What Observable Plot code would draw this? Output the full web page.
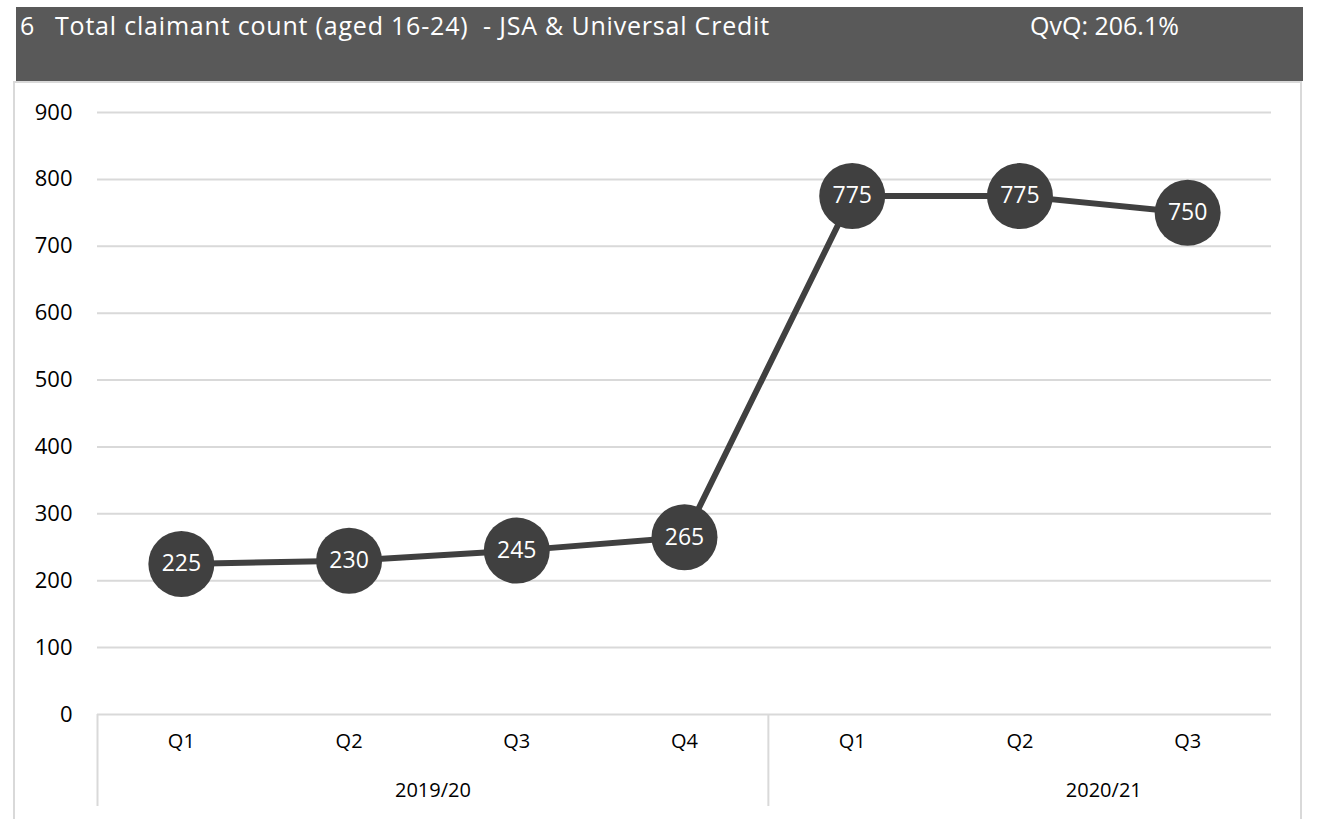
<!DOCTYPE html>
<html>
<head>
<meta charset="utf-8">
<script src="https://cdn.jsdelivr.net/npm/d3@7"></script>
<script src="https://cdn.jsdelivr.net/npm/@observablehq/plot@0.6"></script>
<style>
  html, body { margin: 0; padding: 0; background: #ffffff; width: 1319px; height: 819px; overflow: hidden; font-family: "Open Sans", sans-serif; }
  #header { position: absolute; left: 16px; top: 7px; width: 1287px; height: 74px; background: #595959; color: #ffffff; font-size: 25px; }
  #header span { position: absolute; top: 1px; white-space: pre; }
  #box { position: absolute; left: 13px; top: 81px; width: 1285px; height: 760px; border: 2px solid #d9d9d9; border-bottom: none; }
  #chart { position: absolute; left: 0; top: 82px; }
</style>
</head>
<body>
<div id="box"></div>
<div id="header">
  <span id="num" style="left:4px">6</span>
  <span id="title" style="left:39px; letter-spacing:0.8px">Total claimant count (aged 16-24)  - JSA &amp; Universal Credit</span>
  <span id="qvq" style="left:1014px">QvQ: 206.1%</span>
</div>
<div id="chart"></div>
<script>
const quarters = ["Q1", "Q2", "Q3", "Q4", "Q1", "Q2", "Q3"];
const years = ["2019/20", "2019/20", "2019/20", "2019/20", "2020/21", "2020/21", "2020/21"];
const values = [225, 230, 245, 265, 775, 775, 750];
const yTicks = [0, 100, 200, 300, 400, 500, 600, 700, 800, 900];

const data = quarters.map((q, i) => ({i, quarter: q, year: years[i], value: values[i]}));

// year groups: each fiscal year spans four quarter slots
const groupNames = Array.from(new Set(years));
const groups = groupNames.map(name => {
  const first = years.indexOf(name);
  return {name, start: first - 0.5, center: first + 1.5};
});

const ink = "#404040";
const grid = "#d9d9d9";

const chart = Plot.plot({
  width: 1319,
  height: 737,
  marginLeft: 97,
  marginRight: 48,
  marginTop: 30,
  marginBottom: 105,
  style: {fontFamily: "Open Sans, sans-serif", background: "transparent"},
  x: {type: "linear", domain: [-0.5, quarters.length - 0.5], axis: null},
  y: {domain: [0, 900], axis: null},
  marks: [
    Plot.ruleY(yTicks, {stroke: grid, strokeWidth: 2}),
    Plot.ruleX(groups, {x: "start", y1: 0, y2: 0, insetBottom: -92, stroke: grid, strokeWidth: 2}),
    Plot.axisY({ticks: yTicks, tickSize: 0, tickPadding: 25, fontSize: 22, color: "#000", label: null, tickFormat: d => String(d)}),
    Plot.text(data, {x: "i", text: "quarter", frameAnchor: "bottom", dy: 33, fontSize: 20, fill: "#000"}),
    Plot.text(groups, {x: "center", text: "name", frameAnchor: "bottom", dy: 82, fontSize: 20, fill: "#000"}),
    Plot.line(data, {x: "i", y: "value", stroke: ink, strokeWidth: 6}),
    Plot.dot(data, {x: "i", y: "value", r: 33, fill: ink, stroke: "none"}),
    Plot.text(data, {x: "i", y: "value", text: d => String(d.value), fill: "#fff", fontSize: 23})
  ]
});
document.getElementById("chart").appendChild(chart);
</script>
</body>
</html>
